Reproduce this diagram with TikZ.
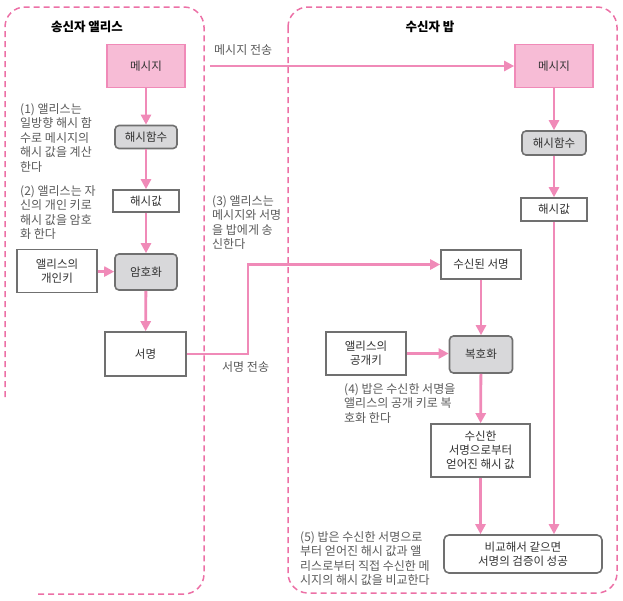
\documentclass[tikz,border=0pt]{standalone}
\usepackage{fontspec}
\setmainfont{Noto Sans CJK KR}
\usetikzlibrary{arrows.meta}
\definecolor{pinkline}{RGB}{240,138,184}
\definecolor{pinkdash}{RGB}{236,112,166}
\definecolor{pinkfill}{RGB}{247,188,214}
\definecolor{grayfill}{RGB}{216,216,218}
\definecolor{boxborder}{RGB}{112,112,112}
\definecolor{notegray}{RGB}{90,90,90}
\definecolor{boxtext}{RGB}{50,50,50}
\begin{document}
\begin{tikzpicture}[x=1pt,y=-1pt,
  boxfont/.style={font=\fontsize{11.5}{14}\selectfont, text=boxtext},
  plainbox/.style={draw=boxborder, line width=1.6pt, fill=white, boxfont, inner sep=0pt, align=center},
  msgbox/.style={draw=pinkline, line width=1.6pt, fill=pinkfill, boxfont, inner sep=0pt, minimum width=78pt, minimum height=43pt},
  funcbox/.style={draw=boxborder, line width=1.6pt, fill=grayfill, rounded corners=4pt, boxfont, inner sep=0pt},
  arr/.style={draw=pinkline, line width=2.8pt, -{Triangle[length=10pt,width=10pt]}},
  frame/.style={draw=pinkdash, line width=1.5pt, dash pattern=on 6pt off 4pt, rounded corners=20pt},
  note/.style={font=\fontsize{12}{14.5}\selectfont, text=notegray, align=left, anchor=north west, inner sep=0pt},
  title/.style={font=\fontsize{12.5}{15}\selectfont\bfseries, text=black, inner sep=0pt}
]
\useasboundingbox (0,0) rectangle (623,600);

% frames
\draw[frame] (5,397) -- (5,7) -- (204,7) -- (204,594) -- (36,594);
\draw[frame] (288,7) rectangle (617,593);

% titles
\node[title] (tA) at (87,27) {송신자 앨리스};
\node[title] (tB) at (430,27) {수신자 밥};

% Alice side
\node[msgbox] (msgA) at (146,66) {메시지};
\node[funcbox, minimum width=62pt, minimum height=23pt] (hfA) at (146,137) {해시함수};
\node[plainbox, minimum width=66pt, minimum height=22pt] (hvA) at (146,201) {해시값};
\node[funcbox, minimum width=62pt, minimum height=36pt] (enc) at (146,272) {암호화};
\node[plainbox, minimum width=80pt, minimum height=43pt] (privk) at (57,271) {앨리스의\\개인키};
\node[plainbox, minimum width=81pt, minimum height=44pt] (sigA) at (145.5,354) {서명};

% Bob side
\node[msgbox] (msgB) at (554,66) {메시지};
\node[funcbox, minimum width=64pt, minimum height=24pt] (hfB) at (554,143) {해시함수};
\node[plainbox, minimum width=66pt, minimum height=23pt] (hvB) at (554,209.5) {해시값};
\node[plainbox, minimum width=80pt, minimum height=29pt] (rsig) at (481,264.5) {수신된 서명};
\node[plainbox, minimum width=80pt, minimum height=43pt] (pubk) at (366,353.5) {앨리스의\\공개키};
\node[funcbox, minimum width=63pt, minimum height=37pt] (dec) at (481,354.5) {복호화};
\node[plainbox, minimum width=99pt, minimum height=53pt] (hvS) at (480.5,450.5) {수신한\\서명으로부터\\얻어진 해시 값};
\node[plainbox, rounded corners=5pt, minimum width=158pt, minimum height=38pt] (cmp) at (523,554) {비교해서 같으면\\서명의 검증이 성공};

% notes
\node[note] (n1) at (20,103) {(1) 앨리스는\\일방향 해시 함\\수로 메시지의\\해시 값을 계산\\한다};
\node[note] (n2) at (20,185) {(2) 앨리스는 자\\신의 개인 키로\\해시 값을 암호\\화 한다};
\node[note] (n3) at (212,195) {(3) 앨리스는\\메시지와 서명\\을 밥에게 송\\신한다};
\node[note] (n4) at (344,383) {(4) 밥은 수신한 서명을\\앨리스의 공개 키로 복\\호화 한다};
\node[note] (n5) at (300,531) {(5) 밥은 수신한 서명으로\\부터 얻어진 해시 값과 앨\\리스로부터 직접 수신한 메\\시지의 해시 값을 비교한다};
\node[note, anchor=west] (lsend) at (214,50) {메시지 전송};
\node[note, anchor=west] (lsig) at (222,367) {서명 전송};

% connectors Alice
\draw[arr] (msgA) -- (hfA);
\draw[arr] (hfA) -- (hvA);
\draw[arr] (hvA) -- (enc);
\draw[arr] (enc) -- (sigA);
\draw[arr] (privk) -- (enc);

% transfer
\coordinate (sendstart) at (210,66);
\draw[arr] (sendstart) -- (msgB);
\coordinate (bend) at (248,354);
\draw[arr] (sigA.east) -- (bend) |- (rsig.west);

% connectors Bob
\draw[arr] (msgB) -- (hfB);
\draw[arr] (hfB) -- (hvB);
\draw[arr] (hvB.south) -- (hvB.south |- cmp.north);
\draw[arr] (rsig) -- (dec);
\draw[arr] (pubk.east) -- (pubk.east -| dec.west);
\draw[arr] (dec) -- (hvS);
\draw[arr] (hvS.south) -- (hvS.south |- cmp.north);
\end{tikzpicture}
\end{document}
